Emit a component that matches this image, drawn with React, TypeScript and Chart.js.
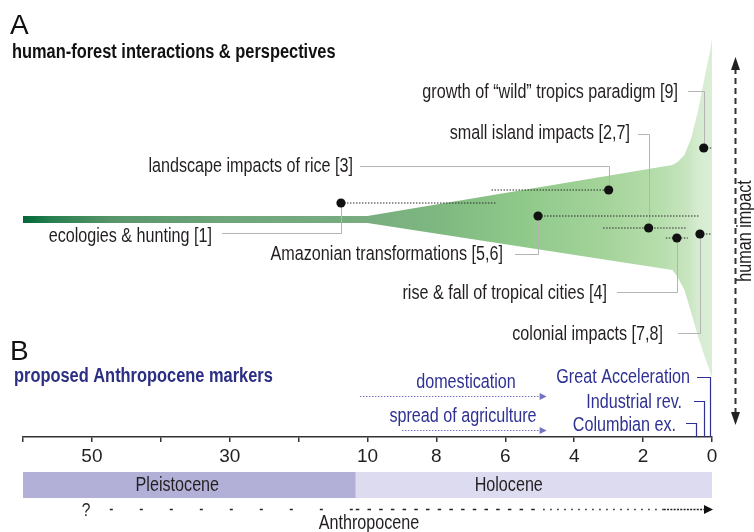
import React, { useEffect, useRef } from 'react';
import { Chart, registerables } from 'chart.js';

Chart.register(...registerables);

// ---------- DATA (time in thousand years before present, ka) ----------
const TICK_KA = [60, 50, 40, 30, 20, 10, 8, 6, 4, 2, 0];
const TICK_LABELS_KA = [50, 30, 10, 8, 6, 4, 2, 0];

// envelope of human impact on tropical forests (upper / lower edge)
const ENVELOPE_KA = [60, 10, 1.15, 1.0, 0.8, 0.6, 0.4, 0.2, 0.05, 0];
const ENVELOPE_UPPER = [3, 3, 54, 57, 64, 81, 109, 144, 169, 181];
const ENVELOPE_LOWER = [-4, -4, -51, -58, -71, -94, -118, -139, -153, -159];

// human-forest interactions
const EVENT_NAMES = [
  'ecologies & hunting [1]',
  'landscape impacts of rice [3]',
  'Amazonian transformations [5,6]',
  'small island impacts [2,7]',
  'rise & fall of tropical cities [4]',
  'colonial impacts [7,8]',
  'growth of \u201cwild\u201d tropics paradigm [9]',
];
const EVENT_DOT_KA = [13.85, 3.0, 5.05, 1.84, 1.02, 0.35, 0.24];
const EVENT_FROM_KA = [13.85, 6.4, 5.05, 3.16, 1.34, 0.35, 0.24];
const EVENT_TO_KA = [6.24, 3.0, 0.35, 0.73, 0.7, 0, 0];
const EVENT_IMPACT = [16, 29, 3, -9, -19, -15, 71];

// proposed Anthropocene markers
const MARKER_NAMES = ['Great Acceleration', 'Industrial rev.', 'Columbian ex.'];
const MARKER_KA = [0.05, 0.23, 0.46];

const SPREAD_NAMES = ['domestication', 'spread of agriculture'];
const SPREAD_FROM_KA = [11.1, 9.0];
const SPREAD_TO_KA = [4.8, 4.8];

// geological periods
const PERIOD_NAMES = ['Pleistocene', 'Holocene'];
const PERIOD_FROM_KA = [60, 11.7];
const PERIOD_TO_KA = [11.7, 0];

// Anthropocene onset uncertainty arrow (segment breaks)
const ANTHRO_BREAKS_KA = [47.4, 11.7, 4.9, 1.4, 0];

// ---------- LAYOUT / STYLE ----------
const W = 754;
const H = 532;
const BLUE = '#2e3192';
const LIGHT_BLUE = '#7373c4';
const TEXT = '#231f20';
const FONT_STACK = '"Liberation Sans Narrow", "Liberation Sans", Arial, sans-serif';
const TEXT_DY = 2;

const EVENT_LABELS = [
  { right: 212, textY: 235, lineY: 233, lineStart: 222 },
  { right: 353, textY: 165, lineY: 166, lineStart: 360 },
  { right: 503, textY: 253, lineY: 254, lineStart: 515 },
  { right: 630, textY: 132, lineY: 134, lineStart: 638 },
  { right: 607, textY: 292, lineY: 292, lineStart: 617 },
  { right: 663, textY: 333, lineY: 333, lineStart: 678 },
  { right: 678, textY: 91, lineY: 91, lineStart: 688 },
];
const MARKER_LABELS = [
  { right: 690, textY: 376, lineY: 377, lineStart: 697 },
  { right: 682, textY: 401, lineY: 401, lineStart: 694 },
  { right: 676, textY: 424, lineY: 423, lineStart: 686 },
];
const SPREAD_LABELS = [
  { cx: 466, textY: 381, arrowY: 396 },
  { cx: 463, textY: 415, arrowY: 430 },
];
const PERIOD_COLORS = ['#b3b0d8', '#dddbef'];
const PERIOD_LABEL_KA = [37.6, 5.9];
const ANTHRO_DASHES = [[3, 27], [3.5, 8.2], [1.5, 5.5], [2, 1.3]];

const GRADIENT_STOPS: [number, string][] = [
  [60, 'rgb(0,104,55)'],
  [56, 'rgb(40,126,78)'],
  [47, 'rgb(88,150,106)'],
  [30, 'rgb(112,166,124)'],
  [10, 'rgb(121,173,128)'],
  [8, 'rgb(126,184,128)'],
  [5.5, 'rgb(143,201,138)'],
  [3, 'rgb(165,212,155)'],
  [1.4, 'rgb(184,222,174)'],
  [0.7, 'rgb(200,229,192)'],
  [0.4, 'rgb(214,236,209)'],
  [0, 'rgb(218,238,213)'],
];

// ---------- helpers ----------
const toU = (ka: number) => (ka <= 10 ? ka : 10 + (ka - 10) / 5);
const fromU = (u: number) => (u <= 10 ? u : 10 + (u - 10) * 5);

let NARROW: boolean | null = null;
function hasNarrow(ctx: CanvasRenderingContext2D) {
  if (NARROW === null) {
    ctx.save();
    ctx.font = '20px "Liberation Sans Narrow", monospace';
    const a = ctx.measureText('abcdefghijklmnopqrst').width;
    ctx.font = '20px "Liberation Sans", monospace';
    const b = ctx.measureText('abcdefghijklmnopqrst').width;
    ctx.restore();
    NARROW = a < b * 0.9;
  }
  return NARROW;
}

type TextOpts = {
  size: number;
  color?: string;
  weight?: string;
  align?: CanvasTextAlign;
  baseline?: CanvasTextBaseline;
  rotate?: number;
  narrow?: boolean;
};
function drawText(ctx: CanvasRenderingContext2D, text: string, x: number, y: number, o: TextOpts) {
  const useNarrow = o.narrow !== false;
  const narrowOk = hasNarrow(ctx);
  const baseline = o.baseline || 'middle';
  ctx.save();
  ctx.translate(x, y + (baseline === 'middle' && !o.rotate ? TEXT_DY : 0));
  if (o.rotate) ctx.rotate(o.rotate);
  const fam = useNarrow && narrowOk ? '"Liberation Sans Narrow"' : '"Liberation Sans", Arial, sans-serif';
  ctx.font = `${o.weight || 'normal'} ${o.size}px ${fam}`;
  if (useNarrow && !narrowOk) ctx.scale(0.82, 1);
  ctx.fillStyle = o.color || TEXT;
  ctx.textAlign = o.align || 'left';
  ctx.textBaseline = baseline;
  ctx.fillText(text, 0, 0);
  ctx.restore();
}

function tri(ctx: CanvasRenderingContext2D, pts: number[][], color: string) {
  ctx.beginPath();
  ctx.moveTo(pts[0][0], pts[0][1]);
  for (let i = 1; i < pts.length; i++) ctx.lineTo(pts[i][0], pts[i][1]);
  ctx.closePath();
  ctx.fillStyle = color;
  ctx.fill();
}

function envelopeGradient(chart: any) {
  const { ctx, chartArea, scales } = chart;
  if (!chartArea || !scales.x) return 'rgb(140,200,138)';
  const g = ctx.createLinearGradient(chartArea.left, 0, chartArea.right, 0);
  const span = chartArea.right - chartArea.left;
  GRADIENT_STOPS.forEach(([ka, c]) => {
    const p = scales.x.getPixelForValue(toU(ka));
    g.addColorStop(Math.min(1, Math.max(0, (p - chartArea.left) / span)), c);
  });
  return g;
}

const annotations = {
  id: 'annotations',
  beforeDatasetsDraw(chart: any) {
    const { ctx, scales } = chart;
    const px = (ka: number) => scales.x.getPixelForValue(toU(ka));
    const py = (v: number) => scales.y.getPixelForValue(v);
    ctx.save();
    ctx.strokeStyle = '#b4b4b4';
    ctx.lineWidth = 1;
    EVENT_NAMES.forEach((_, i) => {
      const L = EVENT_LABELS[i];
      const dx = Math.round(px(EVENT_DOT_KA[i])) + 0.5;
      const dy = py(EVENT_IMPACT[i]);
      ctx.beginPath();
      ctx.moveTo(L.lineStart, L.lineY + 0.5);
      ctx.lineTo(dx, L.lineY + 0.5);
      ctx.lineTo(dx, dy);
      ctx.stroke();
    });
    ctx.restore();
  },
  afterDraw(chart: any) {
    const { ctx, scales, chartArea } = chart;
    const px = (ka: number) => scales.x.getPixelForValue(toU(ka));
    ctx.save();

    // panel titles
    drawText(ctx, 'A', 10, 34, { size: 28, baseline: 'alphabetic', narrow: false, color: '#111' });
    drawText(ctx, 'human-forest interactions & perspectives', 12, 58, { size: 20, weight: 'bold', baseline: 'alphabetic', color: '#111' });
    drawText(ctx, 'B', 10, 360, { size: 28, baseline: 'alphabetic', narrow: false, color: '#111' });
    drawText(ctx, 'proposed Anthropocene markers', 14, 382, { size: 20, weight: 'bold', baseline: 'alphabetic', color: '#2b2e83' });

    // event labels
    EVENT_NAMES.forEach((name, i) => {
      const L = EVENT_LABELS[i];
      drawText(ctx, name, L.right, L.textY, { size: 19.7, align: 'right' });
    });

    // Anthropocene markers with leaders down to the axis
    ctx.strokeStyle = BLUE;
    ctx.lineWidth = 1.2;
    MARKER_NAMES.forEach((name, i) => {
      const L = MARKER_LABELS[i];
      const x = Math.round(px(MARKER_KA[i])) + 0.5;
      ctx.beginPath();
      ctx.moveTo(L.lineStart, L.lineY + 0.5);
      ctx.lineTo(x, L.lineY + 0.5);
      ctx.lineTo(x, chartArea.bottom);
      ctx.stroke();
      drawText(ctx, name, L.right, L.textY, { size: 19.7, align: 'right', color: BLUE });
    });

    // spread arrows
    SPREAD_NAMES.forEach((name, i) => {
      const L = SPREAD_LABELS[i];
      const x0 = px(SPREAD_FROM_KA[i]);
      const x1 = px(SPREAD_TO_KA[i]);
      const y = L.arrowY + 0.5;
      ctx.save();
      ctx.strokeStyle = LIGHT_BLUE;
      ctx.lineWidth = 1.2;
      ctx.setLineDash([1.5, 1.5]);
      ctx.beginPath();
      ctx.moveTo(x0, y);
      ctx.lineTo(x1 - 5, y);
      ctx.stroke();
      ctx.restore();
      tri(ctx, [[x1, y], [x1 - 7, y - 3.5], [x1 - 7, y + 3.5]], LIGHT_BLUE);
      drawText(ctx, name, L.cx, L.textY, { size: 19.7, align: 'center', color: BLUE });
    });

    // period bands
    PERIOD_NAMES.forEach((name, i) => {
      const a = px(PERIOD_FROM_KA[i]);
      const b = px(PERIOD_TO_KA[i]);
      ctx.fillStyle = PERIOD_COLORS[i];
      ctx.fillRect(a, 472, b - a, 26);
      drawText(ctx, name, px(PERIOD_LABEL_KA[i]), 484, { size: 19.7, align: 'center' });
    });

    // Anthropocene arrow
    const ay = 509.5;
    ctx.save();
    ctx.strokeStyle = '#222';
    ctx.lineWidth = 1.5;
    for (let i = 0; i < ANTHRO_BREAKS_KA.length - 1; i++) {
      const a = px(ANTHRO_BREAKS_KA[i]);
      const b = i === ANTHRO_BREAKS_KA.length - 2 ? px(ANTHRO_BREAKS_KA[i + 1]) - 6 : px(ANTHRO_BREAKS_KA[i + 1]);
      ctx.setLineDash(ANTHRO_DASHES[i]);
      ctx.beginPath();
      ctx.moveTo(a, ay);
      ctx.lineTo(b, ay);
      ctx.stroke();
    }
    ctx.restore();
    const ax = px(0) + 1;
    tri(ctx, [[ax, ay], [ax - 9, ay - 4.5], [ax - 9, ay + 4.5]], '#111');
    drawText(ctx, '?', 86, 509, { size: 19, align: 'center' });
    drawText(ctx, 'Anthropocene', 369, 522, { size: 19.7, align: 'center' });

    // human impact arrow
    const hx = 735.5;
    ctx.save();
    ctx.strokeStyle = '#333';
    ctx.lineWidth = 2;
    ctx.setLineDash([6, 4]);
    ctx.beginPath();
    ctx.moveTo(hx, 68);
    ctx.lineTo(hx, 414);
    ctx.stroke();
    ctx.restore();
    tri(ctx, [[hx, 57], [hx - 4.5, 70], [hx + 4.5, 70]], '#222');
    tri(ctx, [[hx, 425], [hx - 4.5, 412], [hx + 4.5, 412]], '#222');
    drawText(ctx, 'human impact', 746, 231, { size: 19.7, align: 'center', rotate: -Math.PI / 2 });

    ctx.restore();
  },
};

export default function App() {
  const ref = useRef<HTMLCanvasElement>(null);
  useEffect(() => {
    document.body.style.margin = '0';
    const canvas = ref.current!;
    const datasets: any[] = [];

    datasets.push({
      label: 'interactions',
      data: EVENT_DOT_KA.map((k, i) => ({ x: toU(k), y: EVENT_IMPACT[i] })),
      showLine: false,
      pointRadius: 4.6,
      pointBackgroundColor: '#111',
      pointBorderWidth: 0,
      clip: false,
    });
    EVENT_NAMES.forEach((name, i) => {
      datasets.push({
        label: name,
        data: [
          { x: toU(EVENT_FROM_KA[i]), y: EVENT_IMPACT[i] },
          { x: toU(EVENT_TO_KA[i]), y: EVENT_IMPACT[i] },
        ],
        borderColor: '#2a2a2a',
        borderWidth: 1,
        borderDash: [1.5, 1.5],
        pointRadius: 0,
        fill: false,
        clip: false,
      });
    });
    datasets.push({
      label: 'envelope upper',
      data: ENVELOPE_KA.map((k, i) => ({ x: toU(k), y: ENVELOPE_UPPER[i] })),
      borderWidth: 0,
      borderColor: 'rgba(0,0,0,0)',
      pointRadius: 0,
      fill: false,
    });
    datasets.push({
      label: 'envelope lower',
      data: ENVELOPE_KA.map((k, i) => ({ x: toU(k), y: ENVELOPE_LOWER[i] })),
      borderWidth: 0,
      borderColor: 'rgba(0,0,0,0)',
      pointRadius: 0,
      fill: '-1',
      backgroundColor: (c: any) => envelopeGradient(c.chart),
    });

    const chart = new Chart(canvas, {
      type: 'line',
      data: { datasets },
      options: {
        animation: false,
        responsive: false,
        devicePixelRatio: 1,
        events: [],
        layout: { padding: { left: 23, right: 42, top: 30, bottom: 0 } },
        plugins: {
          legend: { display: false },
          tooltip: { enabled: false },
          filler: { drawTime: 'beforeDatasetsDraw' },
        } as any,
        scales: {
          x: {
            type: 'linear',
            reverse: true,
            min: 0,
            max: 20,
            afterBuildTicks: (s: any) => {
              s.ticks = TICK_KA.map((k) => ({ value: toU(k) }));
            },
            afterFit: (s: any) => {
              s.height = 95;
            },
            ticks: {
              autoSkip: false,
              maxRotation: 0,
              padding: 3,
              color: TEXT,
              font: { family: FONT_STACK, size: 19 },
              callback: (v: any) => {
                const ka = Math.round(fromU(Number(v)) * 100) / 100;
                return TICK_LABELS_KA.includes(ka) ? String(ka) : '';
              },
            },
            grid: { drawOnChartArea: false, drawTicks: true, tickLength: 5, color: '#333', lineWidth: 1.5 },
            border: { display: true, color: '#333', width: 1.5 },
          },
          y: { display: false, min: -218, max: 189 },
        },
      } as any,
      plugins: [annotations],
    });
    return () => chart.destroy();
  }, []);
  return (
    <div style={{ width: W, height: H, position: 'relative' }}>
      <canvas ref={ref} width={W} height={H} style={{ display: 'block', width: W, height: H }} />
    </div>
  );
}
